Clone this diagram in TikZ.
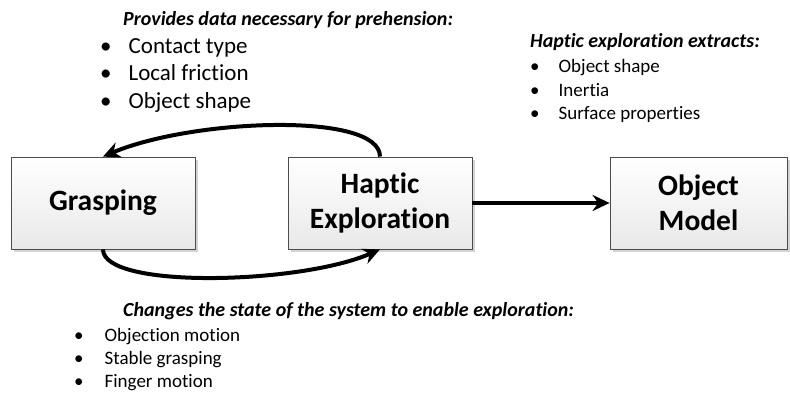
\documentclass[tikz,border=0pt]{standalone}
\usepackage{fontspec}
\setmainfont{Carlito}[Ligatures=NoCommon]
\usetikzlibrary{shadows,arrows.meta}

\tikzset{
  blockbox/.style={draw=gray!60!black, line width=0.8pt, top color=white, bottom color=gray!18,
    minimum width=184pt, minimum height=92pt, align=center,
    font=\fontsize{29.5}{35}\selectfont\bfseries,
    drop shadow={shadow xshift=3pt, shadow yshift=-3pt, opacity=0.35, fill=gray}},
  flowarrow/.style={line width=4pt, -{Stealth[length=17pt,width=16pt]}},
  heading/.style={anchor=west, inner sep=0pt, font=\fontsize{20}{24}\selectfont\bfseries\itshape},
  bigitems/.style={anchor=west, inner sep=0pt, font=\fontsize{23}{27.5}\selectfont},
  smallitems/.style={anchor=west, inner sep=0pt, font=\fontsize{19}{23.3}\selectfont}
}

\begin{document}
\begin{tikzpicture}[x=1pt,y=1pt]
\useasboundingbox (0,0) rectangle (790,394);
%boxes
\node[blockbox] (grasp) at (103,191) {Grasping};
\node[blockbox] (hap) at (380,191) {Haptic\\Exploration};
\node[blockbox, minimum width=177pt] (obj) at (698.5,191) {Object\\Model};
%arrows
\draw[flowarrow] (hap.east) -- (obj.west);
\draw[flowarrow] (hap.north) .. controls +(0,45) and +(90,38) .. (grasp.north);
\draw[flowarrow] (grasp.south) .. controls +(0,-40) and +(-80,-35) .. (hap.south);
%texts
\node[heading] (provtitle) at (123,374) {Provides data necessary for prehension:};
\node[bigitems] (provlist) at (100,318.5) {\begin{tabular}{@{}l@{\hspace{17pt}}l@{}}
\textbullet & Contact type\\
\textbullet & Local friction\\
\textbullet & Object shape
\end{tabular}};
\node[heading] (extrtitle) at (530,352) {Haptic exploration extracts:};
\node[smallitems] (extrlist) at (530,302.5) {\begin{tabular}{@{}l@{\hspace{19pt}}l@{}}
\textbullet & Object shape\\
\textbullet & Inertia\\
\textbullet & Surface properties
\end{tabular}};
\node[heading] (chgtitle) at (123,83) {Changes the state of the system to enable exploration:};
\node[smallitems] (chglist) at (74,34) {\begin{tabular}{@{}l@{\hspace{21pt}}l@{}}
\textbullet & Objection motion\\
\textbullet & Stable grasping\\
\textbullet & Finger motion
\end{tabular}};
\end{tikzpicture}
\end{document}
